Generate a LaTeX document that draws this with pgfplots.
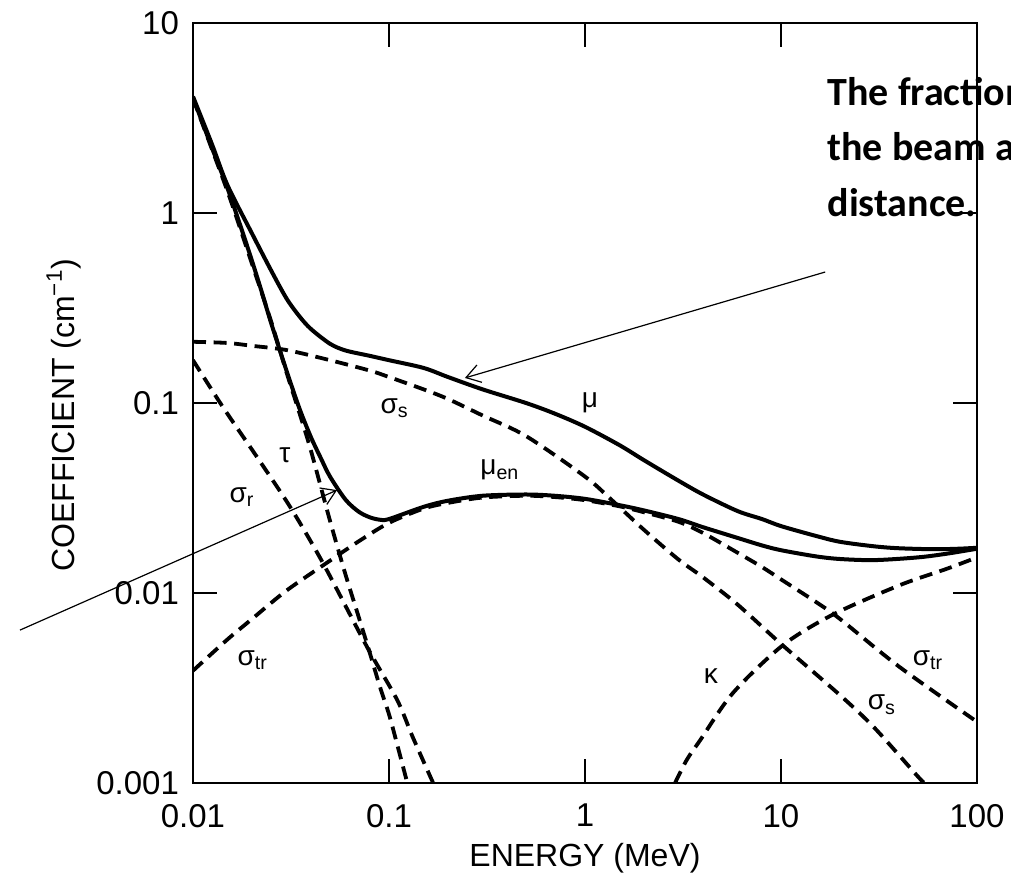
\documentclass[border=0pt]{standalone}
\usepackage{fontspec}
\setmainfont{Liberation Sans}
\newfontfamily\calibri{Carlito}
\usepackage{pgfplots}
\pgfplotsset{compat=1.18}
\usetikzlibrary{arrows.meta}

\newcommand\lab{\fontsize{14}{14}\selectfont}
\newcommand\boldtxt{\calibri\bfseries\fontsize{20}{20}\selectfont}

\begin{document}
\begin{tikzpicture}
\begin{axis}[
    name=ax,
    scale only axis,
    width=392pt, height=380pt,
    xmode=log, ymode=log,
    xmin=0.01, xmax=100, ymin=0.001, ymax=10,
    xtick={0.01,0.1,1,10,100}, xticklabels={0.01,0.1,1,10,100},
    ytick={0.001,0.01,0.1,1,10}, yticklabels={0.001,0.01,0.1,1,10},
    xminorticks=false, yminorticks=false,
    xtick pos=both, ytick pos=both,
    tick align=inside,
    major tick length=12pt,
    tick style={line width=1.2pt, black},
    axis line style={line width=1.4pt},
    tick label style={font=\fontsize{16.5}{16.5}\selectfont},
    xticklabel style={yshift=-7pt},
    yticklabel style={xshift=-3.5pt},
    xlabel={ENERGY (MeV)},
    ylabel={COEFFICIENT (cm\textsuperscript{−1})},
    label style={font=\fontsize{16}{16}\selectfont},
    xlabel style={at={(axis description cs:0.5,-0.099)}, anchor=center},
    ylabel style={at={(axis description cs:-0.165,0.484)}, anchor=center},
    clip mode=individual,
    every axis plot/.append style={black, no markers, smooth, tension=0.5},
    solidc/.style={line width=2pt},
    dashc/.style={line width=1.9pt, dash pattern=on 6.5pt off 3.8pt},
]

% mu
\addplot[solidc] coordinates {
 (0.01,4.1) (0.0125,2.3) (0.015,1.4) (0.02,0.78) (0.025,0.50) (0.03,0.355)
 (0.035,0.285) (0.04,0.245) (0.05,0.205) (0.06,0.189) (0.08,0.177) (0.1,0.168)
 (0.15,0.153) (0.2,0.137) (0.3,0.118) (0.5,0.100) (0.7,0.088) (1,0.075)
 (1.5,0.060) (2,0.050) (3,0.039) (4,0.033) (6,0.027) (8,0.0245) (10,0.0225)
 (15,0.0200) (20,0.0186) (30,0.0176) (40,0.0172) (60,0.0170) (80,0.0171) (100,0.0173)
};

% mu_en
\addplot[solidc] coordinates {
 (0.01,4.05) (0.0125,2.2) (0.015,1.35) (0.0175,0.85) (0.02,0.56) (0.0225,0.38)
 (0.025,0.265) (0.03,0.148) (0.035,0.093) (0.04,0.066) (0.045,0.051) (0.05,0.041)
 (0.06,0.031) (0.07,0.0268) (0.08,0.0250) (0.09,0.0243) (0.1,0.0245) (0.15,0.0284)
 (0.2,0.0306) (0.3,0.0325) (0.5,0.0330) (0.7,0.0325) (1,0.0313) (1.5,0.0290)
 (2,0.0272) (3,0.0245) (4,0.0222) (6,0.0195) (8,0.0178) (10,0.0168) (15,0.0156)
 (20,0.0151) (30,0.0149) (50,0.0154) (70,0.0161) (100,0.0171)
};

% tau
\addplot[dashc] coordinates {
 (0.01,4.0) (0.015,1.3) (0.02,0.54) (0.025,0.27) (0.03,0.145) (0.035,0.088)
 (0.04,0.056) (0.05,0.024) (0.06,0.0125) (0.07,0.0075) (0.08,0.0048)
 (0.09,0.0032) (0.1,0.0023) (0.11,0.0016) (0.124,0.001)
};

% sigma_r
\addplot[dashc] coordinates {
 (0.01,0.168) (0.0142,0.0953) (0.0212,0.052) (0.0313,0.0284) (0.046,0.0144)
 (0.0773,0.0052) (0.11,0.00274) (0.132,0.00175) (0.168,0.001)
};

% sigma_s
\addplot[dashc] coordinates {
 (0.01,0.21) (0.015,0.207) (0.02,0.20) (0.03,0.19) (0.05,0.168) (0.08,0.148)
 (0.1,0.137) (0.15,0.118) (0.2,0.105) (0.3,0.086) (0.5,0.067) (1,0.041)
 (1.34,0.0315) (2,0.0215) (3,0.0150) (4,0.0121) (6,0.0087) (10,0.0054)
 (20,0.0029) (30,0.00195) (50,0.00108) (55,0.00098)
};

% sigma_tr
\addplot[dashc] coordinates {
 (0.01,0.0039) (0.015,0.0057) (0.02,0.0073) (0.03,0.0103) (0.05,0.0148)
 (0.07,0.0187) (0.1,0.0234) (0.15,0.0278) (0.2,0.0298) (0.3,0.0318)
 (0.5,0.0325) (0.7,0.0320) (1,0.0308) (1.5,0.0286) (2,0.0266) (3,0.0237)
 (4,0.0207) (6,0.0163) (8,0.0137) (10,0.0118) (15,0.0090) (20,0.0073)
 (40,0.0041) (100,0.0021)
};

% kappa
\addplot[dashc] coordinates {
 (2.88,0.001) (3.3,0.00132) (3.87,0.00168) (5.69,0.00298) (10.2,0.0053)
 (18.4,0.0077) (40.4,0.011) (70,0.0134) (100,0.0154)
};

\node[font=\lab] at (axis cs:0.107,0.094) {σ\textsubscript{s}};
\node[font=\lab] at (axis cs:0.0294,0.0532) {τ};
\node[font=\lab] at (axis cs:0.0178,0.032) {σ\textsubscript{r}};
\node[font=\lab] at (axis cs:1.06,0.1) {μ};
\node[font=\lab] at (axis cs:0.368,0.0444) {μ\textsubscript{en}};
\node[font=\lab] at (axis cs:0.0202,0.00443) {σ\textsubscript{tr}};
\node[font=\lab] at (axis cs:4.39,0.00366) {κ};
\node[font=\lab] at (axis cs:56.2,0.00443) {σ\textsubscript{tr}};
\node[font=\lab] at (axis cs:32.7,0.00258) {σ\textsubscript{s}};

\draw[line width=0.6pt, -{Straight Barb[length=7pt,width=9pt]}]
  (axis cs:16.8,0.489) -- (axis cs:0.244,0.1355);
\draw[line width=0.6pt, -{Straight Barb[length=7pt,width=9pt]}]
  (axis cs:0.00131,0.00638) -- (axis cs:0.0543,0.0348);

\node[anchor=base west, inner sep=0pt, font=\boldtxt]
  at (axis cs:17.2,3.7) {The fraction};
\node[anchor=base west, inner sep=0pt, font=\boldtxt]
  at (axis cs:17.2,1.9) {the beam a};
\node[anchor=base west, inner sep=0pt, font=\boldtxt]
  at (axis cs:17.2,0.953) {distance.};
\end{axis}
\pgfresetboundingbox
\useasboundingbox ([xshift=-96.5pt,yshift=-52.5pt]ax.south west)
  rectangle ([xshift=17pt,yshift=11.5pt]ax.north east);
\end{tikzpicture}
\end{document}
